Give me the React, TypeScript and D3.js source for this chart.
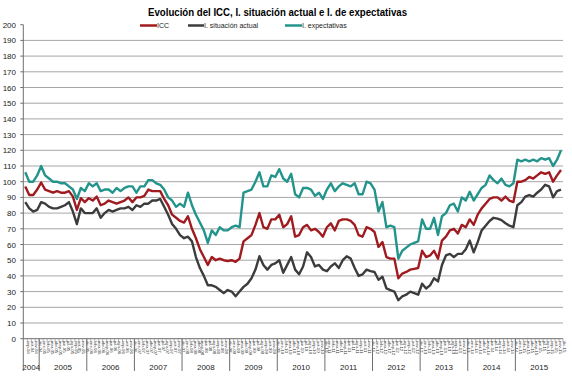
import React from "react";
import * as d3 from "d3";

const monthNames = ["ene", "feb", "mar", "abr", "may", "jun", "jul", "ago", "sep", "oct", "nov", "dic"];
const years = [2004, 2005, 2006, 2007, 2008, 2009, 2010, 2011, 2012, 2013, 2014, 2015];
const firstMonth2004 = 8; // September 2004
const yTicks = d3.range(0, 201, 10);

const icc = [
  97, 91.5, 91.5, 95,
  99.5, 95, 94, 93, 94, 93, 93, 94, 90.5, 82, 89.5, 87,
  89.5, 88, 90.5, 85, 86, 88, 87, 86, 87, 88, 90, 87,
  90, 90, 91, 95, 94, 94, 94, 89, 85, 79, 77, 75,
  74, 78, 70, 64, 57, 52, 47, 52, 50, 51, 50, 49.5,
  50, 49, 51, 62, 64, 66, 72.5, 80, 71, 70, 76, 76,
  79, 71, 73, 78, 65, 66, 71, 72.5, 69, 70, 68, 65,
  71, 73.5, 69, 75, 76, 76, 75, 72.5, 66, 65, 71, 70,
  68, 58.5, 61.5, 52, 51, 51, 38.5, 41.5, 42.5, 44, 44.5, 45,
  56, 52, 53, 56, 51, 62.5, 65, 69, 70, 67, 72.5, 71,
  76, 72.5, 79, 83, 86, 89, 90, 90, 88, 90.5, 88, 87,
  100, 100, 101, 103, 102, 104, 106, 105, 106, 100, 104, 107.5,
];

const situacion = [
  87, 83, 81, 82,
  87, 86, 84, 83, 83, 84, 85, 87, 81, 73, 83, 80,
  80, 80, 83, 77, 80, 82, 81, 82, 83, 83, 84, 82,
  85, 84, 86, 86, 88, 88, 89, 84, 79, 73, 70, 66,
  64, 65, 62, 52, 45, 40, 34, 34, 33, 31, 29, 31,
  30, 27, 30, 33, 35, 38.5, 44, 52.5, 47, 44, 47, 48,
  50, 42, 47, 52, 44, 41, 46, 55, 52, 46, 47, 44,
  43, 46, 48, 45, 50, 52.5, 51, 45, 40, 41, 44, 43,
  42.5, 37.5, 39.5, 32, 31, 30, 24.5, 27, 28, 30, 29, 28,
  35, 32, 34, 38.5, 36.5, 47, 53, 54, 52, 54, 54, 57,
  62.5, 55, 61.5, 69, 72, 75, 77, 76.5, 75.5, 73.5, 72, 71,
  85, 87, 90.5, 91.5, 90.5, 93, 95, 98, 97, 90, 94, 95,
];

const expectativas = [
  106, 100, 100, 104,
  110, 104, 102, 100, 100, 99, 99, 97, 95, 89, 96, 94,
  99, 97, 99, 94, 95, 95, 93, 96, 94, 96, 97, 97,
  93, 97, 97, 101, 101, 99, 98, 95, 90, 88, 84, 86,
  84, 93, 85, 79, 74, 69, 61, 69, 66, 71, 69, 69,
  71, 72, 71, 93, 94, 95, 100, 106, 97, 97, 104, 103,
  108, 102, 100, 105, 92, 90, 96, 96, 95, 91, 93, 89,
  95, 99, 94, 97, 99, 98, 97, 99, 92, 92, 100, 99,
  95, 81, 87, 71, 72, 71, 51, 56, 58, 60, 61, 62,
  76, 70, 70, 77, 66, 78, 80, 85, 86, 81, 90, 88,
  93.6, 88, 92, 96, 98, 104, 101, 99, 102, 98, 97, 99,
  114, 113, 114, 113, 114, 113, 115, 114, 115, 110, 114, 120,
];

const seriesNames = ["ICC", "I. situación actual", "I. expectativas"];
const seriesColors = ["#a01b20", "#3c3c3c", "#23948c"];

type Cat = { key: string; month: string; year: number };
const categories: Cat[] = [];
years.forEach((y) => {
  const start = y === 2004 ? firstMonth2004 : 0;
  for (let m = start; m < 12; m++) {
    categories.push({ key: `${monthNames[m]}-${String(y).slice(2)}`, month: monthNames[m], year: y });
  }
});

export default function App() {
  const W = 572;
  const H = 378;
  const left = 23.3;
  const right = 563;
  const top = 24.7;
  const bottom = 338.7;

  const x = d3.scaleBand<string>().domain(categories.map((c) => c.key)).range([left, right]).padding(0);
  const y = d3.scaleLinear().domain([0, 200]).range([bottom, top]);
  const bw = x.bandwidth();
  const cx = (i: number) => (x(categories[i].key) as number) + bw / 2;

  const line = d3
    .line<number>()
    .x((_, i) => cx(i))
    .y((d) => y(d));

  const allSeries = [icc, situacion, expectativas];

  const yearGroups = years.map((yr) => {
    const idx = categories.map((c, i) => (c.year === yr ? i : -1)).filter((i) => i >= 0);
    const x0 = x(categories[idx[0]].key) as number;
    const x1 = (x(categories[idx[idx.length - 1]].key) as number) + bw;
    return { yr, x0, x1 };
  });

  const font = "Liberation Sans, Arial, sans-serif";

  return (
    <svg
      width={W}
      height={H}
      style={{ position: "absolute", left: 0, top: 0, background: "#fff" }}
      fontFamily={font}
    >
      <rect x={0} y={0} width={W} height={H} fill="#fff" />
      <text
        x={148}
        y={16}
        fontSize={10.5}
        fontWeight="bold"
        fill="#000"
        textLength={259}
        lengthAdjust="spacingAndGlyphs"
      >
        Evolución del ICC, I. situación actual e I. de expectativas
      </text>
      {[
        { sx: 140, tx: 157 },
        { sx: 188, tx: 204 },
        { sx: 285, tx: 302 },
      ].map((p, k) => (
        <g key={k}>
          <line x1={p.sx} x2={p.tx} y1={25.5} y2={25.5} stroke={seriesColors[k]} strokeWidth={2.5} />
          <text x={p.tx} y={28} fontSize={7} fill="#222">
            {seriesNames[k]}
          </text>
        </g>
      ))}
      {yTicks
        .filter((t) => t > 0 && t < 200)
        .map((t) => (
          <line key={t} x1={left} x2={right} y1={y(t)} y2={y(t)} stroke="#a6a6a6" strokeWidth={1} />
        ))}
      <line x1={left} x2={left} y1={top} y2={bottom} stroke="#6e6e6e" strokeWidth={1} />
      {yTicks.map((t) => (
        <g key={t}>
          <line x1={left - 3} x2={left} y1={y(t)} y2={y(t)} stroke="#6e6e6e" />
          <text x={16} y={y(t) + 3} textAnchor="end" fontSize={8} fill="#222">
            {t}
          </text>
        </g>
      ))}
      <line x1={left} x2={right} y1={bottom} y2={bottom} stroke="#6e6e6e" strokeWidth={1} />
      {categories.map((c, i) => (
        <g key={c.key}>
          <line
            x1={(x(c.key) as number) + bw}
            x2={(x(c.key) as number) + bw}
            y1={bottom}
            y2={bottom + 3}
            stroke="#888"
            strokeWidth={0.6}
          />
          <text
            transform={`translate(${cx(i) + 1.6},${bottom + 2}) rotate(90)`}
            fontSize={4.3}
            fill="#333"
          >
            {c.key}
          </text>
        </g>
      ))}
      {yearGroups.map((g, k) => (
        <g key={g.yr}>
          {k > 0 && <line x1={g.x0} x2={g.x0} y1={bottom} y2={371} stroke="#6e6e6e" strokeWidth={1} />}
          <text x={(g.x0 + g.x1) / 2} y={370} textAnchor="middle" fontSize={8} fill="#222">
            {g.yr}
          </text>
        </g>
      ))}
      <line x1={left} x2={left} y1={bottom} y2={371} stroke="#6e6e6e" strokeWidth={1} />
      {allSeries.map((s, k) => (
        <path
          key={k}
          d={line(s) as string}
          fill="none"
          stroke={seriesColors[k]}
          strokeWidth={2.4}
          strokeLinejoin="round"
        />
      ))}
    </svg>
  );
}
